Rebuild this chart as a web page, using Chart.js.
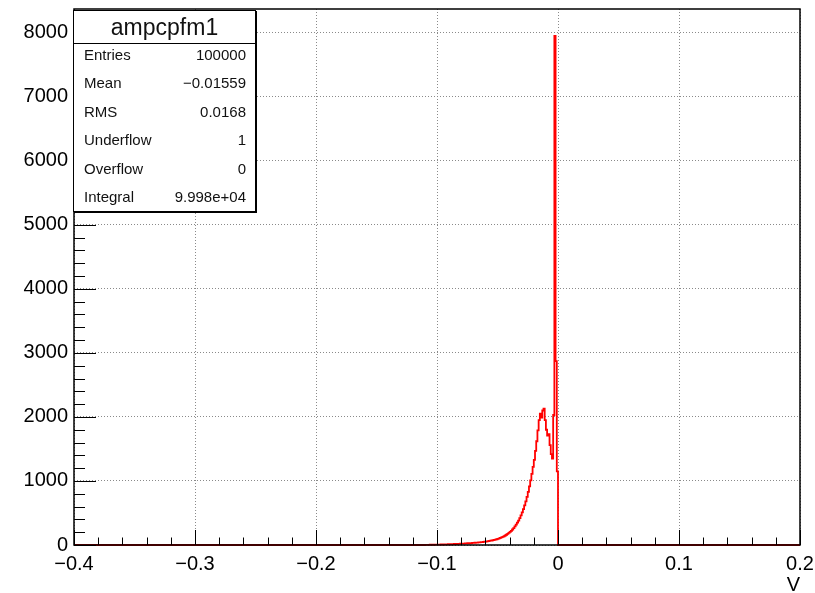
<!DOCTYPE html>
<html>
<head>
<meta charset="utf-8">
<script src="https://cdn.jsdelivr.net/npm/chart.js@4/dist/chart.umd.min.js"></script>
<style>
  body { margin: 0; background: #fff; }
  #wrap { position: relative; width: 815px; height: 593px; }
  #stats {
    position: absolute; left: 73px; top: 10px; width: 183px; height: 202px;
    box-sizing: border-box; border: 1px solid #000; background: #fff;
    box-shadow: 1px 1px 0 #000; overflow: hidden;
    font-family: "Liberation Sans", Arial, sans-serif; color: #111;
  }
  #stats .title { height: 32px; line-height: 32px; text-align: center; font-size: 23px; border-bottom: 1px solid #000; }
  #stats .rows { margin-top: -3px; }
  #stats .row { display: flex; justify-content: space-between; padding: 0 9px 0 10px; height: 28.4px; line-height: 28.4px; font-size: 15px; }
</style>
</head>
<body>
<div id="wrap">
  <canvas id="chartHisto" width="815" height="593"></canvas>
  <div id="stats"></div>
</div>
<script>
// histogram "ampcpfm1": bins of 0.001 V, first bin left edge at -0.110, everything else empty
var binLow = -0.110;
var binWidth = 0.001;
var counts = [
  2, 1, 3, 2, 4, 3, 5, 4, 6, 5,
  6, 7, 6, 8, 9, 8, 10, 11, 10, 12,
  13, 12, 15, 14, 16, 17, 16, 19, 18, 20,
  21, 23, 22, 25, 24, 27, 28, 27, 30, 32,
  33, 35, 37, 36, 40, 42, 44, 46, 49, 51,
  54, 57, 60, 63, 67, 70, 75, 79, 84, 90,
  96, 103, 110, 118, 127, 137, 148, 160, 173, 188,
  205, 222, 242, 265, 290, 318, 348, 382, 420, 462,
  510, 560, 618, 680, 750, 830, 915, 1010, 1110, 1220,
  1330, 1470, 1620, 1790, 1950, 2050, 1990, 2100, 2130, 1950,
  1800, 1710, 1730, 1560, 1420, 1350, 2030, 7950, 2870, 1150
];

var xRange = [-0.4, 0.2];
var yRange = [0, 8370];
var xTickValues = [-0.4, -0.3, -0.2, -0.1, 0, 0.1, 0.2];
var xTickLabels = ['\u22120.4', '\u22120.3', '\u22120.2', '\u22120.1', '0', '0.1', '0.2'];
var yTickValues = [0, 1000, 2000, 3000, 4000, 5000, 6000, 7000, 8000];
var yTickLabels = ['0', '1000', '2000', '3000', '4000', '5000', '6000', '7000', '8000'];

var histTitle = 'ampcpfm1';
var statsLabels = ['Entries', 'Mean', 'RMS', 'Underflow', 'Overflow', 'Integral'];
var statsValues = ['100000', '\u22120.01559', '0.0168', '1', '0', '9.998e+04'];

// step points at bin left edges, flat zero outside
buildPoints = function() {
  var pts = [{x: xRange[0], y: 0}];
  for (var i = 0; i < counts.length; i++) {
    pts.push({x: binLow + i * binWidth, y: counts[i]});
  }
  pts.push({x: binLow + counts.length * binWidth, y: 0});
  pts.push({x: xRange[1], y: 0});
  return pts;
}

buildStats = function() {
  var box = document.getElementById('stats');
  var html = '<div class="title">' + histTitle + '</div><div class="rows">';
  for (var i = 0; i < statsLabels.length; i++) {
    html += '<div class="row"><span>' + statsLabels[i] + '</span><span>' + statsValues[i] + '</span></div>';
  }
  box.innerHTML = html + '</div>';
}

// ROOT style frame with ticks inside the pad
var rootFrame = {
  id: 'rootFrame',
  afterDraw: function(chart) {
    var ctx = chart.ctx, a = chart.chartArea, xs = chart.scales.x, ys = chart.scales.y;
    ctx.save();
    ctx.strokeStyle = '#000';
    ctx.lineWidth = 1;
    ctx.beginPath();
    for (var k = 0; k <= 30; k++) {
      var xv = xRange[0] + k * 0.02;
      var px = Math.round(xs.getPixelForValue(xv)) + 0.5;
      ctx.moveTo(px, a.bottom);
      ctx.lineTo(px, a.bottom - (k % 5 == 0 ? 15 : 7.5));
    }
    for (var j = 0; j * 200 <= yRange[1]; j++) {
      var py = Math.round(ys.getPixelForValue(j * 200)) + 0.5;
      ctx.moveTo(a.left, py);
      ctx.lineTo(a.left + (j % 5 == 0 ? 22 : 11), py);
    }
    ctx.stroke();
    ctx.lineWidth = 1.5;
    ctx.strokeRect(a.left, a.top, a.right - a.left, a.bottom - a.top);
    ctx.restore();
  }
};

var config = {
  type: 'line',
  data: {
    datasets: [{
      data: buildPoints(),
      borderColor: '#ff0000',
      borderWidth: 1.8,
      pointRadius: 0,
      stepped: true,
      fill: false,
      clip: false
    }]
  },
  options: {
    responsive: false,
    animation: false,
    devicePixelRatio: 1,
    layout: {padding: {left: 0, top: 9, right: 15, bottom: 0}},
    plugins: {legend: {display: false}, tooltip: {enabled: false}},
    scales: {
      x: {
        type: 'linear', min: xRange[0], max: xRange[1],
        afterBuildTicks: function(s) { s.ticks = xTickValues.map(function(v) { return {value: v}; }); },
        afterFit: function(s) { s.height = 48; s.paddingLeft = 0; s.paddingRight = 0; },
        ticks: {
          autoSkip: false, maxRotation: 0, padding: 7, color: '#000',
          font: {family: 'Liberation Sans', size: 20},
          callback: function(v, i) { return xTickLabels[i]; }
        },
        grid: {color: '#8a8a8a', lineWidth: 1, drawTicks: false},
        border: {display: false, dash: [1, 2]},
        title: {display: true, text: 'V', align: 'end', color: '#000', font: {family: 'Liberation Sans', size: 20}, padding: {top: 0, bottom: -4}}
      },
      y: {
        min: yRange[0], max: yRange[1],
        afterBuildTicks: function(s) { s.ticks = yTickValues.map(function(v) { return {value: v}; }); },
        afterFit: function(s) { s.width = 74; s.paddingTop = 0; s.paddingBottom = 0; },
        ticks: {
          padding: 6, color: '#000',
          font: {family: 'Liberation Sans', size: 20},
          callback: function(v, i) { return yTickLabels[i]; }
        },
        grid: {color: '#8a8a8a', lineWidth: 1, drawTicks: false},
        border: {display: false, dash: [1, 2]}
      }
    }
  },
  plugins: [rootFrame]
};

buildStats();
window.chartHisto = new Chart(document.getElementById('chartHisto').getContext('2d'), config);
</script>
</body>
</html>
